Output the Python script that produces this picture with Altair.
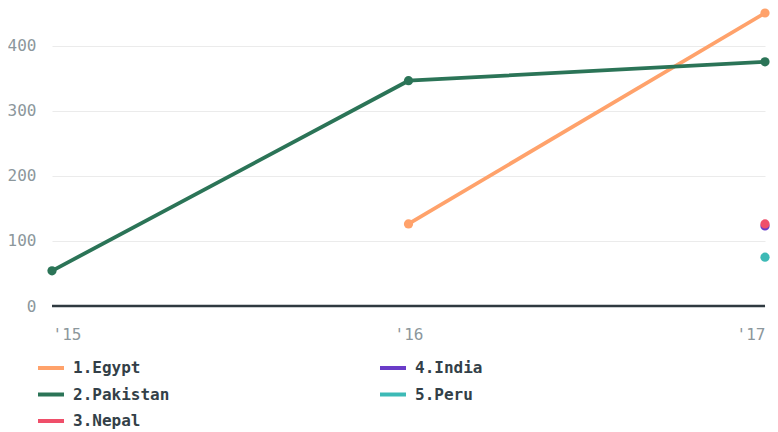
import altair as alt
import pandas as pd

countries = ["1.Egypt", "1.Egypt", "2.Pakistan", "2.Pakistan", "2.Pakistan", "4.India", "3.Nepal", "5.Peru"]
years = [2016, 2017, 2015, 2016, 2017, 2017, 2017, 2017]
values = [126, 450, 54, 346, 375, 123, 126, 75]

legend_order = ["1.Egypt", "2.Pakistan", "3.Nepal", "4.India", "5.Peru"]
legend_colors = ["#ffa26b", "#2b7457", "#ef4f6a", "#6a3cc8", "#3dbab6"]

df = pd.DataFrame({"country": countries, "year": years, "value": values})

color = alt.Color(
    "country:N",
    scale=alt.Scale(domain=legend_order, range=legend_colors),
    legend=alt.Legend(
        title=None,
        orient="none",
        legendX=-16,
        legendY=340,
        columns=2,
        columnPadding=202,
        rowPadding=3.5,
        symbolType="stroke",
        symbolSize=676,
        symbolStrokeWidth=4,
        labelOffset=7,
        labelFont="DejaVu Sans Mono",
        labelFontSize=16,
        labelFontWeight="bold",
        labelColor="#333f48",
        labelLimit=0,
    ),
)

x = alt.X(
    "year:Q",
    scale=alt.Scale(domain=[2015, 2017], nice=False, zero=False),
    axis=alt.Axis(
        title=None,
        values=[2015, 2016, 2017],
        labelExpr="\"'\" + slice(toString(datum.value), 2)",
        grid=False,
        domain=False,
        ticks=False,
        labelPadding=20,
        labelFont="DejaVu Sans Mono",
        labelFontSize=16,
        labelColor="#8c979c",
    ),
)
y = alt.Y(
    "value:Q",
    scale=alt.Scale(domain=[0, 450], nice=False),
    axis=alt.Axis(
        title=None,
        values=[0, 100, 200, 300, 400],
        grid=True,
        gridColor="#ebebeb",
        gridWidth=1.2,
        domain=False,
        ticks=False,
        labelPadding=16,
        labelFont="DejaVu Sans Mono",
        labelFontSize=16,
        labelColor="#8c979c",
    ),
)

base = alt.Chart(df)
lines = base.mark_line(strokeWidth=3.8).encode(x=x, y=y, color=color, detail="country:N")
points = base.mark_circle(size=85, opacity=1).encode(x=x, y=y, color=color)
zero = alt.Chart(pd.DataFrame({"v": [0]})).mark_rule(color="#2f3a40", strokeWidth=2.5).encode(y="v:Q")

chart = alt.layer(zero, lines, points).properties(
    width=713,
    height=293,
    autosize=alt.AutoSizeParams(type="none"),
    padding={"left": 44, "top": 5, "right": 5, "bottom": 130},
).configure_view(stroke=None)

chart.save("out.html", embed_options={"renderer": "svg", "actions": False})
